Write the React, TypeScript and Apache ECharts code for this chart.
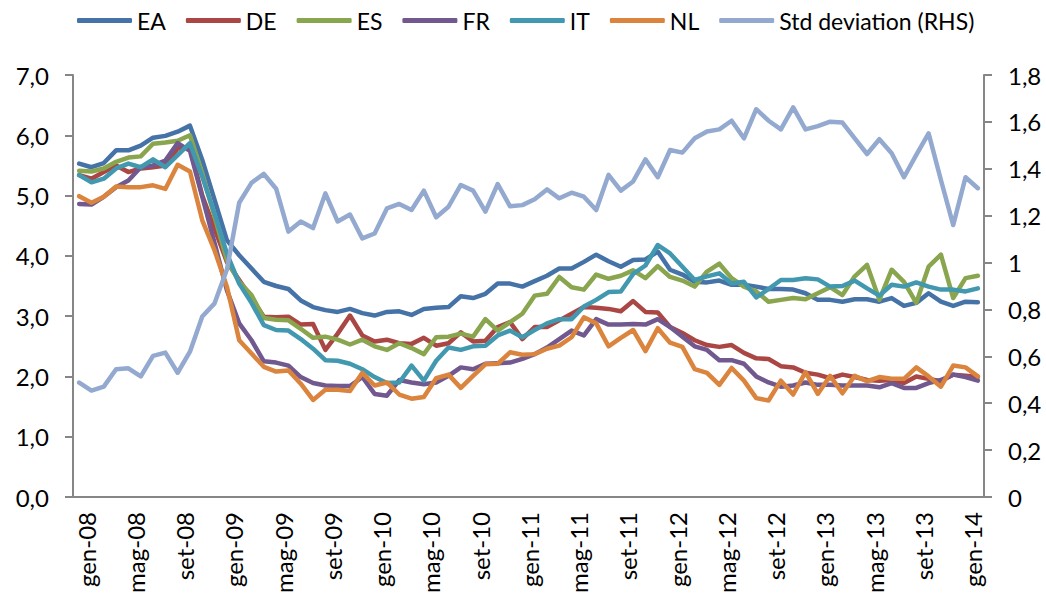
import React, { useEffect, useRef } from "react";
import * as echarts from "echarts";

const MONTHS = ["gen", "feb", "mar", "apr", "mag", "giu", "lug", "ago", "set", "ott", "nov", "dic"];
const YEARS = ["08", "09", "10", "11", "12", "13", "14"];
const N_POINTS = 74; // gen-08 .. feb-14

const categories: string[] = [];
for (const y of YEARS) for (const m of MONTHS) categories.push(`${m}-${y}`);
const CATEGORIES = categories.slice(0, N_POINTS);

const EA = [5.53, 5.47, 5.54, 5.75, 5.75, 5.83, 5.96, 5.99, 6.06, 6.16, 5.59, 4.93, 4.26, 4.01, 3.79, 3.57, 3.50, 3.45, 3.26, 3.15, 3.10, 3.07, 3.12, 3.05, 3.01, 3.07, 3.08, 3.02, 3.12, 3.14, 3.15, 3.33, 3.30, 3.37, 3.54, 3.54, 3.49, 3.58, 3.67, 3.79, 3.79, 3.90, 4.02, 3.91, 3.82, 3.93, 3.94, 4.07, 3.77, 3.69, 3.57, 3.56, 3.59, 3.52, 3.52, 3.49, 3.45, 3.45, 3.44, 3.38, 3.27, 3.27, 3.24, 3.28, 3.28, 3.24, 3.30, 3.17, 3.22, 3.38, 3.24, 3.17, 3.24, 3.23];
const DE = [5.34, 5.28, 5.39, 5.50, 5.39, 5.45, 5.47, 5.50, 5.78, 5.80, 5.00, 4.45, 3.90, 3.60, 3.30, 2.99, 2.98, 2.99, 2.86, 2.87, 2.44, 2.71, 3.01, 2.68, 2.58, 2.61, 2.55, 2.54, 2.64, 2.51, 2.55, 2.73, 2.58, 2.59, 2.82, 2.90, 2.62, 2.82, 2.82, 2.93, 3.04, 3.15, 3.14, 3.12, 3.08, 3.25, 3.07, 3.06, 2.82, 2.72, 2.60, 2.52, 2.49, 2.52, 2.39, 2.30, 2.29, 2.17, 2.15, 2.06, 2.03, 1.97, 2.03, 1.99, 1.94, 1.93, 1.94, 1.89, 2.00, 1.96, 1.92, 2.03, 2.01, 1.99];
const ES = [5.41, 5.40, 5.45, 5.56, 5.63, 5.65, 5.86, 5.88, 5.91, 6.00, 5.37, 4.65, 3.93, 3.57, 3.35, 2.97, 2.94, 2.93, 2.79, 2.64, 2.66, 2.61, 2.53, 2.61, 2.50, 2.44, 2.55, 2.47, 2.37, 2.65, 2.66, 2.71, 2.66, 2.95, 2.76, 2.90, 3.04, 3.34, 3.37, 3.65, 3.48, 3.44, 3.69, 3.62, 3.67, 3.76, 3.63, 3.83, 3.65, 3.59, 3.49, 3.74, 3.87, 3.63, 3.49, 3.41, 3.24, 3.27, 3.30, 3.28, 3.38, 3.48, 3.35, 3.66, 3.85, 3.27, 3.77, 3.57, 3.22, 3.82, 4.02, 3.30, 3.63, 3.67];
const FR = [4.86, 4.85, 4.98, 5.14, 5.25, 5.47, 5.50, 5.58, 5.87, 5.74, 4.98, 4.21, 3.43, 2.88, 2.60, 2.25, 2.23, 2.18, 1.99, 1.89, 1.85, 1.84, 1.84, 1.99, 1.71, 1.68, 1.94, 1.90, 1.87, 1.90, 2.01, 2.15, 2.12, 2.21, 2.22, 2.23, 2.29, 2.37, 2.48, 2.62, 2.76, 2.68, 2.95, 2.86, 2.86, 2.87, 2.86, 2.95, 2.82, 2.66, 2.50, 2.44, 2.27, 2.27, 2.21, 2.00, 1.90, 1.83, 1.85, 1.90, 1.86, 1.86, 1.85, 1.85, 1.85, 1.82, 1.89, 1.81, 1.81, 1.89, 1.94, 2.03, 1.99, 1.93];
const IT = [5.34, 5.22, 5.28, 5.45, 5.53, 5.47, 5.60, 5.47, 5.67, 5.87, 5.31, 4.70, 4.04, 3.54, 3.22, 2.85, 2.77, 2.76, 2.62, 2.46, 2.27, 2.26, 2.21, 2.12, 1.99, 1.89, 1.90, 2.18, 1.93, 2.26, 2.48, 2.44, 2.50, 2.51, 2.68, 2.76, 2.65, 2.77, 2.88, 2.95, 2.95, 3.16, 3.27, 3.40, 3.41, 3.70, 3.84, 4.18, 4.04, 3.82, 3.60, 3.66, 3.71, 3.54, 3.57, 3.31, 3.45, 3.60, 3.60, 3.63, 3.61, 3.49, 3.50, 3.59, 3.46, 3.34, 3.52, 3.49, 3.56, 3.49, 3.44, 3.44, 3.41, 3.46];
const NL = [4.99, 4.88, 4.98, 5.15, 5.14, 5.14, 5.17, 5.11, 5.51, 5.40, 4.59, 4.09, 3.49, 2.60, 2.38, 2.16, 2.08, 2.10, 1.88, 1.61, 1.78, 1.78, 1.76, 2.06, 1.85, 1.90, 1.70, 1.63, 1.66, 1.97, 2.03, 1.81, 2.01, 2.20, 2.21, 2.40, 2.36, 2.37, 2.46, 2.51, 2.65, 2.98, 2.88, 2.50, 2.64, 2.77, 2.42, 2.80, 2.56, 2.49, 2.12, 2.06, 1.86, 2.14, 1.93, 1.64, 1.60, 1.93, 1.70, 2.07, 1.71, 2.01, 1.72, 2.01, 1.92, 1.99, 1.96, 1.96, 2.15, 2.00, 1.83, 2.18, 2.15, 2.00];
const STD = [0.488, 0.454, 0.471, 0.545, 0.549, 0.514, 0.602, 0.616, 0.53, 0.62, 0.77, 0.826, 0.97, 1.255, 1.34, 1.378, 1.315, 1.132, 1.175, 1.147, 1.295, 1.175, 1.205, 1.103, 1.124, 1.231, 1.25, 1.224, 1.307, 1.193, 1.238, 1.331, 1.307, 1.217, 1.335, 1.24, 1.245, 1.27, 1.312, 1.274, 1.298, 1.281, 1.224, 1.374, 1.307, 1.346, 1.44, 1.364, 1.48, 1.469, 1.53, 1.559, 1.568, 1.605, 1.53, 1.654, 1.605, 1.568, 1.662, 1.568, 1.582, 1.601, 1.597, 1.53, 1.463, 1.526, 1.466, 1.364, 1.459, 1.551, 1.352, 1.16, 1.364, 1.317];

const SERIES_NAMES = ["EA", "DE", "ES", "FR", "IT", "NL", "Std deviation (RHS)"];
const SERIES_DATA = [EA, DE, ES, FR, IT, NL, STD];
const COLORS = ["#4572A7", "#AA4643", "#89A54E", "#71588F", "#4198AF", "#DB843D", "#93A9CF"];

const FONT = "Lato, 'Open Sans', sans-serif";
const AXIS_COLOR = "#868686";

export default function App() {
  const ref = useRef<HTMLDivElement>(null);
  useEffect(() => {
    document.body.style.margin = "0";
    if (!ref.current) return;
    const chart = echarts.init(ref.current, undefined, { renderer: "svg" });
    const axisLine = { show: true, lineStyle: { color: AXIS_COLOR, width: 2 } };
    chart.setOption({
      animation: false,
      backgroundColor: "#ffffff",
      textStyle: { fontFamily: FONT },
      legend: {
        left: 72,
        top: 4,
        icon: "roundRect",
        itemWidth: 55,
        itemHeight: 5,
        itemGap: 20,
        data: SERIES_NAMES,
        textStyle: { fontSize: 23, fontFamily: FONT, color: "#000" },
      },
      grid: { left: 73, right: 62, top: 75, bottom: 100, containLabel: false },
      xAxis: {
        type: "category",
        data: CATEGORIES,
        boundaryGap: true,
        axisLine,
        axisTick: { show: false },
        splitLine: { show: false },
        axisLabel: {
          interval: 3,
          rotate: 90,
          margin: 15,
          fontSize: 24,
          fontFamily: FONT,
          color: "#000",
          verticalAlign: "top",
          lineHeight: 14,
        },
      },
      yAxis: [
        {
          type: "value",
          position: "left",
          min: 0,
          max: 7,
          interval: 1,
          axisLine,
          axisTick: { show: true, length: 8, lineStyle: { color: AXIS_COLOR, width: 2 } },
          splitLine: { show: false },
          axisLabel: {
            margin: 24,
            fontSize: 24,
            fontFamily: FONT,
            color: "#000",
            formatter: (v: number) => v.toFixed(1).replace(".", ","),
          },
        },
        {
          type: "value",
          position: "right",
          min: 0,
          max: 1.8,
          interval: 0.2,
          axisLine,
          axisTick: { show: true, length: 8, lineStyle: { color: AXIS_COLOR, width: 2 } },
          splitLine: { show: false },
          axisLabel: {
            margin: 24,
            fontSize: 24,
            fontFamily: FONT,
            color: "#000",
            formatter: (v: number) => String(Number(v.toFixed(1))).replace(".", ","),
          },
        },
      ],
      series: SERIES_NAMES.map((name, i) => ({
        name,
        type: "line",
        yAxisIndex: i === 6 ? 1 : 0,
        data: SERIES_DATA[i],
        symbol: "none",
        smooth: false,
        lineStyle: { width: 4.5, color: COLORS[i], cap: "round", join: "round" },
        itemStyle: { color: COLORS[i] },
      })),
    });
    return () => chart.dispose();
  }, []);
  return <div ref={ref} style={{ width: 1046, height: 597 }} />;
}
